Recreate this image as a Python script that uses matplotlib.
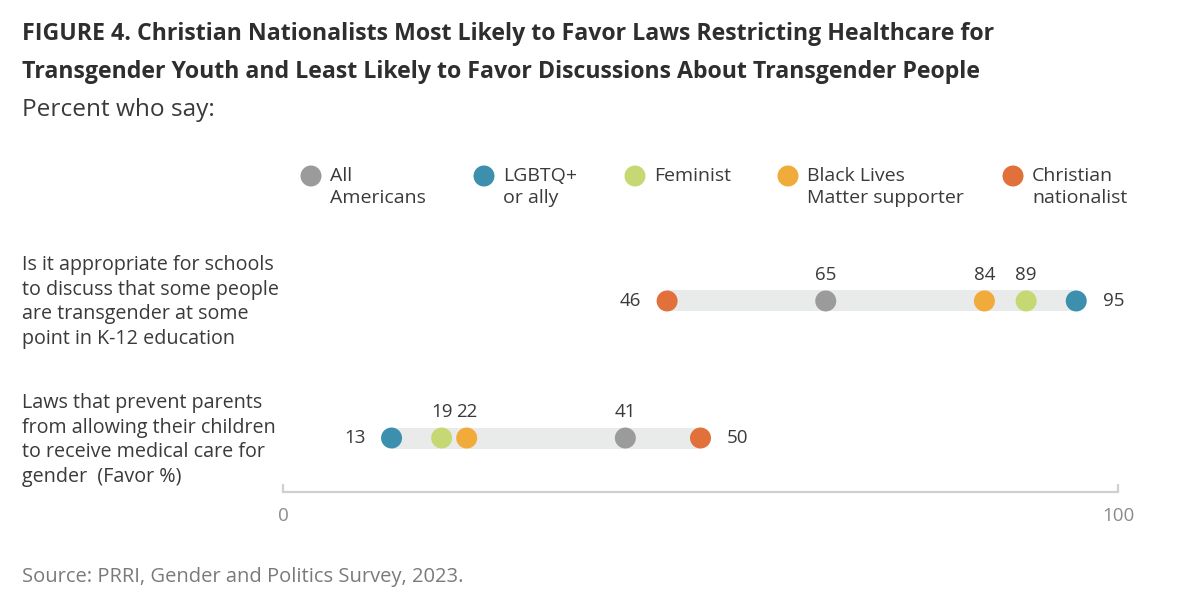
import matplotlib
matplotlib.use("Agg")
import matplotlib.pyplot as plt

# ---------------- data ----------------
questions = [
    "Is it appropriate for schools\nto discuss that some people\nare transgender at some\npoint in K-12 education",
    "Laws that prevent parents\nfrom allowing their children\nto receive medical care for\ngender  (Favor %)",
]
groups = ["All\nAmericans", "LGBTQ+\nor ally", "Feminist", "Black Lives\nMatter supporter", "Christian\nnationalist"]
school_discuss = [65, 95, 89, 84, 46]
laws_favor = [41, 13, 19, 22, 50]
group_colors = ["#9b9b9b", "#3d8fae", "#c6d873", "#f0ab3b", "#e2703b"]
x_ticks = [0, 100]

title = ("FIGURE 4. Christian Nationalists Most Likely to Favor Laws Restricting Healthcare for\n"
         "Transgender Youth and Least Likely to Favor Discussions About Transgender People")
subtitle = "Percent who say:"
source = "Source: PRRI, Gender and Politics Survey, 2023."

# ---------------- layout ----------------
W, H = 1200, 614
fig = plt.figure(figsize=(12, 6.14), dpi=100)
fig.patch.set_facecolor("white")

def fx(px):
    return px / W

def fy(py):
    return 1 - py / H

BODY = ["Open Sans", "DejaVu Sans"]
TXT = "#3a3a3a"

ax = fig.add_axes([fx(283), fy(492), (1118 - 283) / W, (492 - 250) / H])
ax.set_xlim(0, 100)
ax.set_ylim(-0.394, 1.372)

rows = [school_discuss, laws_favor]
row_y = [1, 0]
bar_h = 21 / 137
dot_s = (21 * 0.72) ** 2

for vals, y in zip(rows, row_y):
    lo, hi = min(vals), max(vals)
    ax.barh(y, hi - lo, left=lo, height=bar_h, color="#e9eaea", zorder=1)
    ax.scatter(vals, [y] * len(vals), s=dot_s, c=group_colors, zorder=3, linewidths=0)
    for v in vals:
        if v == lo:
            off = (-37, 0)
        elif v == hi:
            off = (37, 0)
        else:
            off = (0, 26)
        ax.annotate(str(v), (v, y), xytext=off, textcoords="offset pixels",
                    ha="center", va="center", fontsize=13.5, color=TXT, family=BODY)

for sp in ["top", "right", "left"]:
    ax.spines[sp].set_visible(False)
ax.spines["bottom"].set_color("#d0d0d0")
ax.spines["bottom"].set_linewidth(1.6)
ax.set_yticks([])
ax.set_xticks(x_ticks)
ax.set_xticklabels([str(t) for t in x_ticks], family=BODY, fontsize=13.5, color="#8a8a8a")
ax.tick_params(axis="x", direction="in", length=6, width=1.6, color="#d0d0d0", pad=11)
ax.patch.set_alpha(0)

# question labels
for q, py in zip(questions, [302, 440]):
    fig.text(fx(22), fy(py), q, ha="left", va="center", fontsize=14.2, color=TXT,
             family=BODY, linespacing=1.33)

# legend (manual)
lax = fig.add_axes([0, 0, 1, 1])
lax.set_xlim(0, W)
lax.set_ylim(H, 0)
lax.axis("off")
leg_x = [311, 484, 635, 788, 1013]
lax.scatter(leg_x, [176] * len(leg_x), s=dot_s, c=group_colors, linewidths=0)
for g, x in zip(groups, leg_x):
    lax.text(x + 19, 167, g, ha="left", va="top", fontsize=14, color=TXT,
             family=BODY, linespacing=1.3)

# titles
fig.text(fx(22), fy(22), title, ha="left", va="top", fontsize=16.7, fontweight="bold",
         color="#2e2e2e", family=BODY, linespacing=1.8)
fig.text(fx(22), fy(110), subtitle, ha="left", va="center", fontsize=17.6,
         color="#3a3a3a", family=BODY)
fig.text(fx(22), fy(577), source, ha="left", va="center", fontsize=14.5,
         color="#7a7a7a", family=BODY)

fig.savefig("out.png", dpi=100, facecolor="white")
